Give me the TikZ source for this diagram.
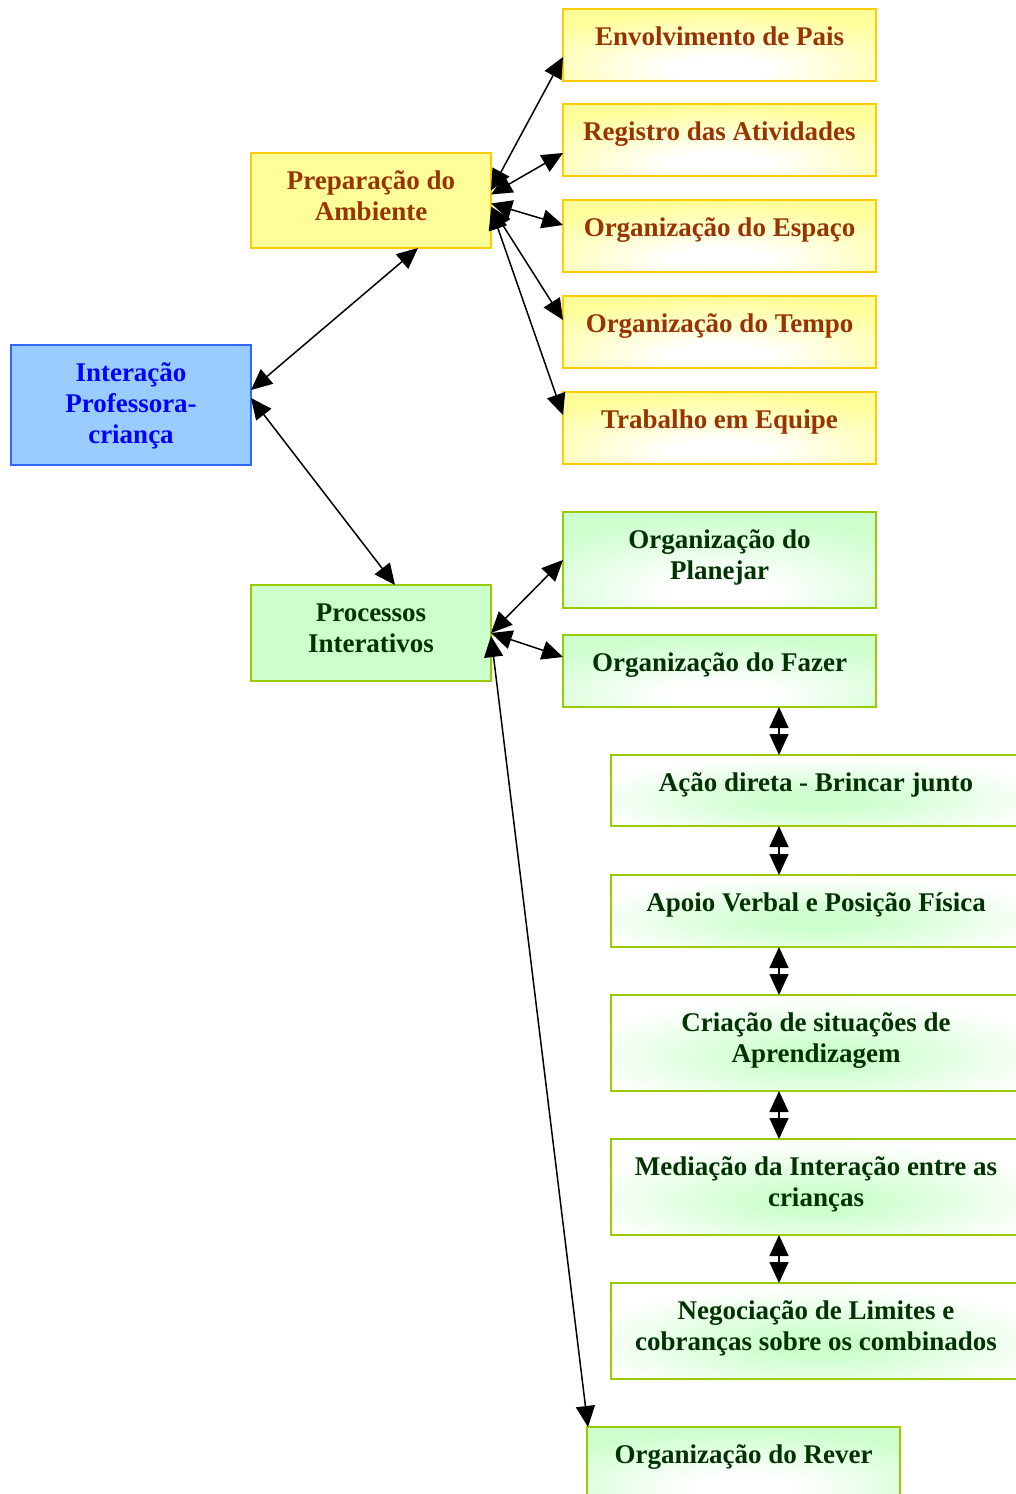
\documentclass[tikz,border=0pt]{standalone}
\usepackage{fontspec}
\setmainfont{Liberation Serif}
\usetikzlibrary{arrows.meta}
\definecolor{Yfill}{HTML}{FFFF99}
\definecolor{Ydraw}{HTML}{FFCC00}
\definecolor{Ytext}{HTML}{993300}
\definecolor{Gfill}{HTML}{CCFFCC}
\definecolor{Gdraw}{HTML}{99CC00}
\definecolor{Gtext}{HTML}{003300}
\definecolor{Bfill}{HTML}{99CCFF}
\definecolor{Bdraw}{HTML}{3366FF}
\definecolor{Btext}{HTML}{0000FF}
\pgfdeclareradialshading{yglow}{\pgfpoint{0bp}{-18bp}}{color(0bp)=(white); color(8bp)=(white); color(36bp)=(Yfill); color(120bp)=(Yfill)}
\pgfdeclareradialshading{gglow}{\pgfpoint{0bp}{-18bp}}{color(0bp)=(white); color(8bp)=(white); color(36bp)=(Gfill); color(120bp)=(Gfill)}
\pgfdeclareradialshading{ginv}{\pgfpoint{0bp}{-8bp}}{color(0bp)=(Gfill); color(5bp)=(Gfill); color(30bp)=(white); color(120bp)=(white)}
\newcommand{\boxtext}[1]{\begin{tabular}[t]{@{}c@{}}#1\end{tabular}}
\tikzset{
  box/.style={rectangle, inner sep=0pt, outer sep=0pt, line width=1.6pt, anchor=north west,
    text height=36pt, font=\fontsize{27}{31}\selectfont\bfseries},
  bluebox/.style={box, draw=Bdraw, fill=Bfill, text=Btext},
  yflat/.style={box, draw=Ydraw, fill=Yfill, text=Ytext},
  yshaded/.style={box, draw=Ydraw, shade, shading=yglow, text=Ytext},
  gflat/.style={box, draw=Gdraw, fill=Gfill, text=Gtext},
  gshaded/.style={box, draw=Gdraw, shade, shading=gglow, text=Gtext},
  ginverse/.style={box, draw=Gdraw, shade, shading=ginv, text=Gtext},
  link/.style={line width=1.5pt, {Triangle[length=21pt,width=19pt]}-{Triangle[length=21pt,width=19pt]}}
}
\begin{document}
\begin{tikzpicture}[x=1pt, y=-1pt]
\useasboundingbox (0,0) rectangle (1015,1494);
% main nodes
\node[bluebox, minimum width=240pt, text depth=84pt] (int) at (11,345) {\boxtext{Interação\\Professora-\\criança}};
\node[yflat, minimum width=240pt, text depth=59pt] (prep) at (251,153) {\boxtext{Preparação do\\Ambiente}};
\node[gflat, minimum width=240pt, text depth=60pt] (proc) at (251,585) {\boxtext{Processos\\Interativos}};
% yellow branch
\node[yshaded, minimum width=313pt, text depth=36pt] (env) at (563,9) {\boxtext{Envolvimento de Pais}};
\node[yshaded, minimum width=313pt, text depth=36pt] (reg) at (563,104) {\boxtext{Registro das Atividades}};
\node[yshaded, minimum width=313pt, text depth=36pt] (esp) at (563,200) {\boxtext{Organização do Espaço}};
\node[yshaded, minimum width=313pt, text depth=36pt] (tem) at (563,296) {\boxtext{Organização do Tempo}};
\node[yshaded, minimum width=313pt, text depth=36pt] (tra) at (563,392) {\boxtext{Trabalho em Equipe}};
% green branch
\node[gshaded, minimum width=313pt, text depth=60pt] (pla) at (563,512) {\boxtext{Organização do\\Planejar}};
\node[gshaded, minimum width=313pt, text depth=36pt] (faz) at (563,635) {\boxtext{Organização do Fazer}};
\node[ginverse, minimum width=410pt, text depth=35pt] (aca) at (611,755) {\boxtext{Ação direta - Brincar junto}};
\node[ginverse, minimum width=410pt, text depth=36pt] (apo) at (611,875) {\boxtext{Apoio Verbal e Posição Física}};
\node[ginverse, minimum width=410pt, text depth=60pt] (cri) at (611,995) {\boxtext{Criação de situações de\\Aprendizagem}};
\node[ginverse, minimum width=410pt, text depth=60pt] (med) at (611,1139) {\boxtext{Mediação da Interação entre as\\crianças}};
\node[ginverse, minimum width=410pt, text depth=60pt] (neg) at (611,1283) {\boxtext{Negociação de Limites e\\cobranças sobre os combinados}};
\node[gshaded, minimum width=313pt, text depth=36pt] (rev) at (587,1427) {\boxtext{Organização do Rever}};
% connectors
\draw[link] ([yshift=15pt]int.east) -- ([xshift=47pt]prep.south);
\draw[link] ([yshift=7pt]int.east) -- ([xshift=24pt]proc.north);
\draw[link] ([yshift=10pt]prep.east) -- ([yshift=-12pt]env.west);
\draw[link] ([yshift=6pt]prep.east) -- ([yshift=-13pt]reg.west);
\draw[link] ([yshift=-3pt]prep.east) -- ([yshift=11pt]esp.west);
\draw[link] ([yshift=-6pt]prep.east) -- ([yshift=12pt]tem.west);
\draw[link] ([yshift=-8pt]prep.east) -- ([yshift=13pt]tra.west);
\draw[link] (proc.east) -- (pla.west);
\draw[link] (proc.east) -- ([yshift=14pt]faz.west);
\draw[link] ([yshift=-3pt]proc.east) -- ([xshift=1pt]rev.north west);
\draw[link] ([xshift=59.5pt]faz.south) -- ([xshift=-37pt]aca.north);
\draw[link] ([xshift=-37pt]aca.south) -- ([xshift=-37pt]apo.north);
\draw[link] ([xshift=-37pt]apo.south) -- ([xshift=-37pt]cri.north);
\draw[link] ([xshift=-37pt]cri.south) -- ([xshift=-37pt]med.north);
\draw[link] ([xshift=-37pt]med.south) -- ([xshift=-37pt]neg.north);
\end{tikzpicture}
\end{document}
